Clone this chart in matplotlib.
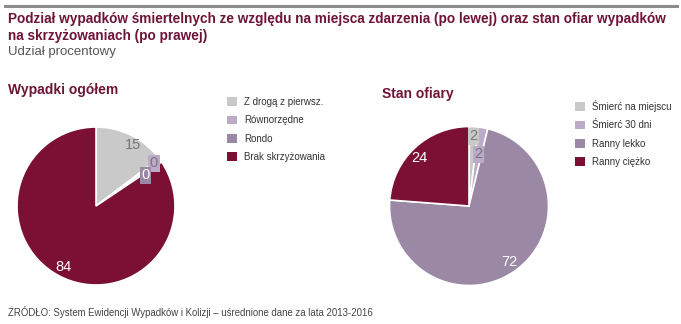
import matplotlib
matplotlib.use("Agg")
import matplotlib.pyplot as plt
from matplotlib.patches import Patch
import numpy as np

plt.rcParams['font.family'] = ['Liberation Sans', 'DejaVu Sans']

title_lines = ["Podział wypadków śmiertelnych ze względu na miejsca zdarzenia (po lewej) oraz stan ofiar wypadków",
               "na skrzyżowaniach (po prawej)"]
subtitle = "Udział procentowy"
source = "ŹRÓDŁO: System Ewidencji Wypadków i Kolizji – uśrednione dane za lata 2013-2016"

left_title = "Wypadki ogółem"
left_cats = ["Z drogą z pierwsz.", "Równorzędne", "Rondo", "Brak skrzyżowania"]
left_vals = [14.7, 0.45, 0.45, 84.4]

right_title = "Stan ofiary"
right_cats = ["Śmierć na miejscu", "Śmierć 30 dni", "Ranny lekko", "Ranny ciężko"]
right_vals = [1.9, 1.9, 72.4, 23.8]

left_colors = ["#c9c9c9", "#bcaac9", "#9b88a5", "#7b1034"]
right_colors = ["#c9c9c9", "#bcaac9", "#9b88a5", "#7b1034"]
left_txtcol = ["#777777", "#777777", "white", "white"]
right_txtcol = ["#777777", "#777777", "white", "white"]
left_rfrac = [0.9, 0.91, 0.74, 0.87]
right_rfrac = [0.88, 0.66, 0.87, 0.87]
left_angoff = [5, 0, 3, 0]
right_angoff = [0, 0, 0, -3]

W, H = 681, 324
fig = plt.figure(figsize=(W / 100, H / 100), dpi=100)
fig.patch.set_facecolor("white")

def fx(x): return x / W
def fy(y): return 1 - y / H

# top rule
fig.add_artist(plt.Line2D([fx(5), fx(677)], [fy(5.5), fy(5.5)], color="#8c8c8c", lw=2.2))

maroon = "#6e1535"
fig.text(fx(8), fy(19.5), title_lines[0], color=maroon, fontsize=9.8, fontweight="bold", va="center", ha="left")
fig.text(fx(8), fy(36), title_lines[1], color=maroon, fontsize=9.8, fontweight="bold", va="center", ha="left")
fig.text(fx(8), fy(52.5), subtitle, color="#555555", fontsize=9.5, va="center", ha="left")
fig.text(fx(8), fy(90), left_title, color=maroon, fontsize=10, fontweight="bold", va="center", ha="left")
fig.text(fx(382), fy(94), right_title, color=maroon, fontsize=10, fontweight="bold", va="center", ha="left")
fig.text(fx(8), fy(312), source, color="#444444", fontsize=6.9, va="center", ha="left")

def draw_pie(cx, cy, r, vals, colors, txtcol, rfrac, angoff, cats, leg_x, leg_y):
    ax = fig.add_axes([fx(cx - r), fy(cy + r), (2 * r) / W, (2 * r) / H])
    wedges, _ = ax.pie(vals, colors=colors, startangle=90, counterclock=False,
                       wedgeprops=dict(edgecolor="white", linewidth=1.2))
    ax.set_xlim(-1, 1)
    ax.set_ylim(-1, 1)
    ax.set_aspect("equal")
    ax.axis("off")
    for w, v, c, tc, rf, ao in zip(wedges, vals, colors, txtcol, rfrac, angoff):
        ang = np.deg2rad((w.theta1 + w.theta2) / 2 - ao)
        x, y = rf * np.cos(ang), rf * np.sin(ang)
        kw = {}
        if v < 5:
            kw["bbox"] = dict(boxstyle="square,pad=0.1", fc=c, ec="none")
        ax.text(x, y, f"{v:.0f}", ha="center", va="center", fontsize=10.5, color=tc,
                zorder=5, **kw)
    handles = [Patch(facecolor=c, edgecolor="none") for c in colors]
    fig.legend(handles, cats, loc="upper left", bbox_to_anchor=(fx(leg_x), fy(leg_y)),
               frameon=False, fontsize=7, handlelength=1.0, handleheight=1.0,
               handletextpad=0.8, labelspacing=0.85, borderpad=0, borderaxespad=0,
               labelcolor="#333333")

draw_pie(96, 206, 79, left_vals, left_colors, left_txtcol, left_rfrac, left_angoff, left_cats, 227, 97)
draw_pie(469, 206, 79.5, right_vals, right_colors, right_txtcol, right_rfrac, right_angoff, right_cats, 575, 100)

fig.savefig("out.png", dpi=100, facecolor="white")
